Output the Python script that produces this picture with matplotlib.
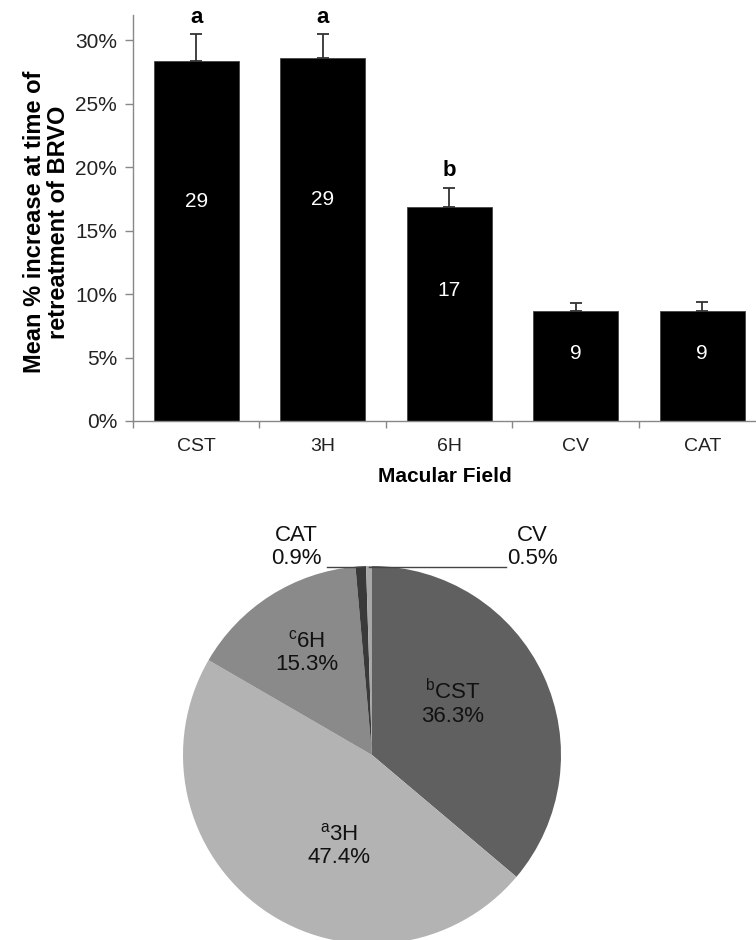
import matplotlib
matplotlib.use("Agg")
import matplotlib.pyplot as plt
import numpy as np

plt.rcParams['font.family'] = ['Liberation Sans', 'DejaVu Sans']
plt.rcParams['mathtext.default'] = 'regular'

# bar chart data
fields = ["CST", "3H", "6H", "CV", "CAT"]
mean_increase = [28.4, 28.6, 16.9, 8.7, 8.7]
sem = [2.1, 1.9, 1.5, 0.6, 0.7]
bar_counts = ["29", "29", "17", "9", "9"]
group_letters = ["a", "a", "b", "", ""]
y_ticks = [0, 5, 10, 15, 20, 25, 30]

# pie chart data (clockwise from 12 o'clock)
pie_fields = ["CST", "3H", "6H", "CAT", "CV"]
pie_share = [36.3, 47.4, 15.3, 0.9, 0.5]
pie_letters = ["b", "a", "c", "", ""]
pie_colors = ["#606060", "#b3b3b3", "#8a8a8a", "#3a3a3a", "#a8a8a8"]

W, H = 756, 940
fig = plt.figure(figsize=(W / 100, H / 100), dpi=100)

# ---- bar chart ----
ax = fig.add_axes([133 / W, 1 - 421 / H, (W - 133) / W, 406 / H])
x = np.arange(len(fields))
ax.bar(x, mean_increase, width=0.67, color='black', edgecolor='#444444',
       linewidth=0.6, zorder=2)
ax.errorbar(x, mean_increase, yerr=[np.zeros(len(sem)), sem], fmt='none',
            ecolor='#333333', elinewidth=1.3, capsize=4.5, capthick=1.3, zorder=3)

for xi, h, e, n, g in zip(x, mean_increase, sem, bar_counts, group_letters):
    ax.text(xi, h * 0.61, n, color='white', ha='center', va='center', fontsize=15)
    if g:
        ax.annotate(g, (xi, h + e), xytext=(0, 8), textcoords='offset points',
                    ha='center', va='baseline', fontsize=16, fontweight='bold')

ax.set_xlim(-0.5, 4.425)
ax.set_ylim(0, 32)
ax.set_yticks(y_ticks)
ax.set_yticklabels([f"{v}%" for v in y_ticks])
ax.set_xticks(x)
ax.set_xticklabels(fields)
ax.set_xticks(np.arange(len(fields)) - 0.5, minor=True)
ax.tick_params(axis='x', which='major', length=0, pad=12, labelsize=14,
               labelcolor='#222222')
ax.tick_params(axis='x', which='minor', length=5, width=1, color='#888888')
ax.tick_params(axis='y', length=5.5, width=1, color='#888888', pad=6,
               labelsize=15, labelcolor='#222222')
for s in ['top', 'right']:
    ax.spines[s].set_visible(False)
for s in ['left', 'bottom']:
    ax.spines[s].set_color('#888888')
    ax.spines[s].set_linewidth(1)

ax.set_xlabel("Macular Field", fontsize=15, fontweight='bold', labelpad=9)
ax.set_ylabel("Mean % increase at time of\nretreatment of BRVO", fontsize=17,
              fontweight='bold', linespacing=1.05)
ax.yaxis.set_label_coords(-0.101, 0.49)

# ---- pie chart ----
cx, cy, r = 372, 755, 189
pax = fig.add_axes([(cx - r) / W, (H - cy - r) / H, 2 * r / W, 2 * r / H])
wedges, _ = pax.pie(pie_share, colors=pie_colors, startangle=90,
                    counterclock=False, radius=1,
                    wedgeprops=dict(linewidth=0))
pax.set_xlim(-1, 1)
pax.set_ylim(-1, 1)
pax.set_aspect('equal')
pax.axis('off')

# inside labels: radius factor and angle nudge for each big slice
inner_pos = {"CST": (0.51, 8), "3H": (0.51, 15), "6H": (0.64, 0)}
for w, name, val, let in zip(wedges, pie_fields, pie_share, pie_letters):
    mid = (w.theta1 + w.theta2) / 2
    if name in inner_pos:
        rf, nudge = inner_pos[name]
        a = np.radians(mid + nudge)
        sup = f"$^{{{let}}}$" if let else ""
        pax.text(rf * np.cos(a), rf * np.sin(a), f"{sup}{name}\n{val:.1f}%",
                 ha='center', va='center', fontsize=16, color='#111111',
                 linespacing=1.1)
    else:
        a = np.radians(mid)
        px = np.cos(a)
        if name == "CAT":
            tx, lx = -0.40, -0.24
        else:
            tx, lx = 0.85, 0.71
        pax.plot([px, lx], [0.995, 0.995], color='#444444', lw=1, clip_on=False)
        pax.text(tx, 1.10, f"{name}\n{val:.1f}%", ha='center', va='center',
                 fontsize=16, color='#111111', linespacing=1.1)

fig.savefig("out.png", dpi=100)
